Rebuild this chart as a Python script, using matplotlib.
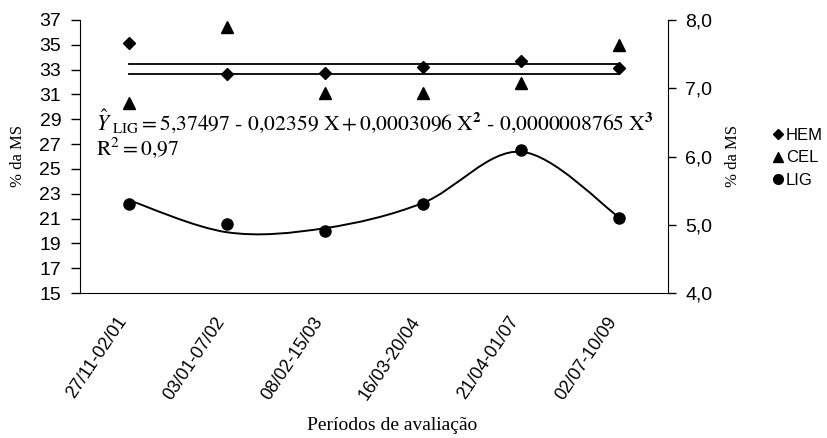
import matplotlib
matplotlib.use("Agg")
from matplotlib import pyplot as plt
from matplotlib.path import Path
from matplotlib.patches import PathPatch
from matplotlib.lines import Line2D
from matplotlib.transforms import ScaledTranslation

periods = ["27/11-02/01", "03/01-07/02", "08/02-15/03", "16/03-20/04", "21/04-01/07", "02/07-10/09"]
hem = [35.15, 32.65, 32.75, 33.25, 33.7, 33.1]
cel = [30.3, 36.4, 31.1, 31.1, 31.95, 35.0]
lig = [5.31, 5.01, 4.91, 5.31, 6.09, 5.10]
lig_fit = [5.36, 4.89, 4.95, 5.32, 6.07, 5.11]

left_ticks = list(range(15, 38, 2))
right_ticks = [4.0, 5.0, 6.0, 7.0, 8.0]

sans = "Liberation Sans"
serif = "Liberation Serif"
plt.rcParams["mathtext.fontset"] = "stix"

fig = plt.figure(figsize=(8.27, 4.38), dpi=100)
ax = fig.add_axes([80 / 827, 1 - 293 / 438, 588 / 827, 273 / 438])
ax2 = ax.twinx()

x = list(range(len(periods)))

ax.set_xlim(-0.5, len(periods) - 0.5)
ax.set_ylim(15, 37)
ax2.set_ylim(4, 8)

# mean lines for HEM and CEL
hem_mean = sum(hem) / len(hem)
cel_mean = sum(cel) / len(cel)
ax.plot([x[0], x[-1]], [hem_mean, hem_mean], color="black", lw=1.3)
ax.plot([x[0], x[-1]], [cel_mean, cel_mean], color="black", lw=1.3)

ax.plot(x, hem, linestyle="none", marker="D", markersize=6, color="black")
ax.plot(x, cel, linestyle="none", marker="^", markersize=8, color="black")

# smoothed line through fitted LIG values (bezier, like Excel smoothing)
pts = list(zip(x, lig_fit))
verts = [pts[0]]
codes = [Path.MOVETO]
for i in range(len(pts) - 1):
    p0 = pts[max(i - 1, 0)]
    p1 = pts[i]
    p2 = pts[i + 1]
    p3 = pts[min(i + 2, len(pts) - 1)]
    c1 = (p1[0] + (p2[0] - p0[0]) / 6, p1[1] + (p2[1] - p0[1]) / 6)
    c2 = (p2[0] - (p3[0] - p1[0]) / 6, p2[1] - (p3[1] - p1[1]) / 6)
    verts += [c1, c2, p2]
    codes += [Path.CURVE4, Path.CURVE4, Path.CURVE4]
ax2.add_patch(PathPatch(Path(verts, codes), facecolor="none", edgecolor="black", lw=1.4))
ax2.plot(x, lig, linestyle="none", marker="o", markersize=8, color="black")

for a in (ax, ax2):
    a.spines["top"].set_visible(False)
ax.spines["right"].set_visible(False)
ax2.spines["left"].set_visible(False)
ax2.spines["bottom"].set_visible(False)

ax.set_yticks(left_ticks)
ax.set_yticklabels([str(t) for t in left_ticks], fontfamily=sans, fontsize=14)
ax2.set_yticks(right_ticks)
ax2.set_yticklabels([f"{t:.1f}".replace(".", ",") for t in right_ticks], fontfamily=sans, fontsize=14)
ax.tick_params(axis="y", direction="out", length=6.5, width=1, pad=7)
ax2.tick_params(axis="y", direction="out", length=5.5, width=1, pad=7)

ax.set_xticks(x)
ax.set_xticklabels(periods, rotation=56, ha="right", va="baseline", rotation_mode="anchor",
                   fontfamily=sans, fontsize=13)
ax.tick_params(axis="x", length=0, pad=20)
shift = ScaledTranslation(-2 / 100, 0, fig.dpi_scale_trans)
for lbl in ax.get_xticklabels():
    lbl.set_transform(lbl.get_transform() + shift)

fig.text(18 / 827, 1 - 156 / 438, "% da MS", rotation=90, ha="center", va="center",
         fontfamily=serif, fontsize=12)
fig.text(733 / 827, 1 - 156 / 438, "% da MS", rotation=90, ha="center", va="center",
         fontfamily=serif, fontsize=12)
fig.text(392 / 827, 1 - 426 / 438, "Períodos de avaliação", ha="center", va="center",
         fontfamily=serif, fontsize=14)

eq = (r"$\hat{Y}_{\ \mathrm{LIG}} = 5{,}37497\text{ - }0{,}02359\ \mathrm{X} + 0{,}0003096\ \mathrm{X}^{\mathbf{2}}"
      r"\text{ - }0{,}0000008765\ \mathrm{X}^{\mathbf{3}}$")
fig.text(96 / 827, 1 - 130 / 438, eq, ha="left", va="baseline", fontsize=15.6)
fig.text(96 / 827, 1 - 155 / 438, r"$\mathrm{R}^{2} = 0{,}97$", ha="left", va="baseline", fontsize=15.6)

handles = [
    Line2D([], [], linestyle="none", marker="D", markersize=5, color="black"),
    Line2D([], [], linestyle="none", marker="^", markersize=7, color="black"),
    Line2D([], [], linestyle="none", marker="o", markersize=7, color="black"),
]
fig.legend(handles, ["HEM", "CEL", "LIG"], loc="center left", bbox_to_anchor=(766 / 827, 1 - 158 / 438),
           frameon=False, handlelength=0.6, handletextpad=0.2, labelspacing=0.45, borderaxespad=0,
           prop={"family": sans, "size": 12})

fig.savefig("out.png", dpi=100, facecolor="white")
